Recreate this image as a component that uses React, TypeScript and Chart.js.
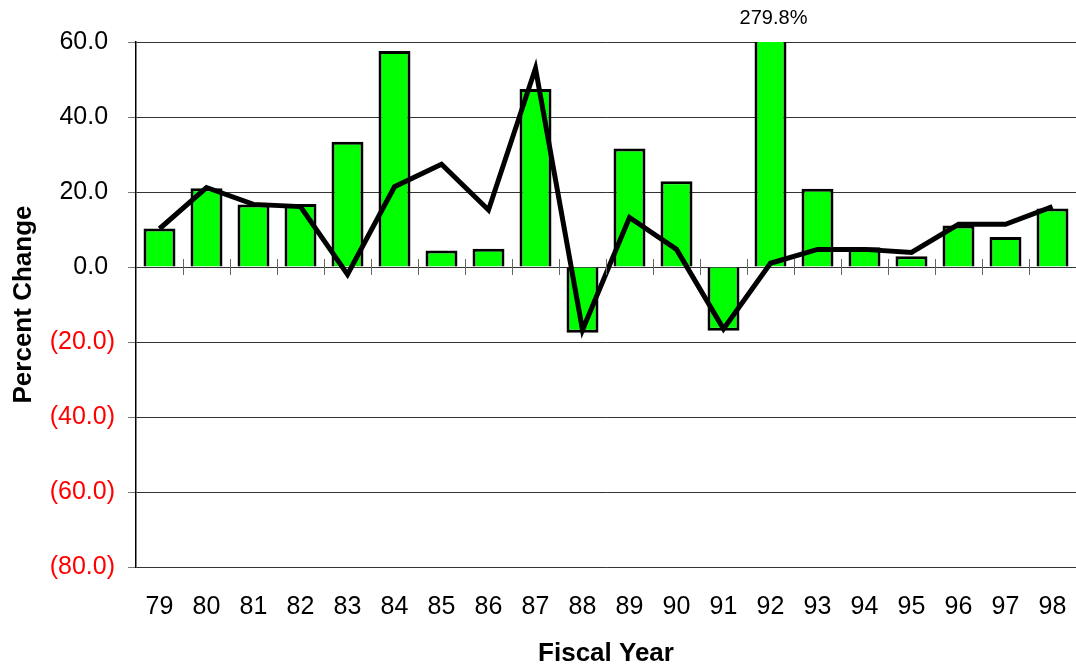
import React, { useEffect, useRef } from "react";
import { Chart, registerables } from "chart.js";

Chart.register(...registerables);

const years = ["79", "80", "81", "82", "83", "84", "85", "86", "87", "88", "89", "90", "91", "92", "93", "94", "95", "96", "97", "98"];
const barValues = [10.3, 21.0, 16.7, 16.8, 33.4, 57.6, 4.4, 4.9, 47.5, -17.5, 31.6, 22.9, -17.0, 279.8, 20.9, 5.3, 2.9, 11.1, 8.0, 15.6];
const lineValues = [10.2, 21.2, 16.7, 16.1, -2.0, 21.4, 27.4, 15.2, 53.0, -16.8, 13.2, 4.7, -16.5, 1.0, 4.7, 4.7, 3.9, 11.4, 11.4, 16.1];
const yMin = -80;
const yMax = 60;
const yStep = 20;
const xTitle = "Fiscal Year";
const yTitle = "Percent Change";

const zeroTicksPlugin = {
  id: "zeroTicks",
  afterDatasetsDraw(chart: any) {
    const { ctx, scales } = chart;
    const x = scales.x;
    const y = scales.y;
    const y0 = y.getPixelForValue(0);
    const n = chart.data.labels.length;
    const w = (x.right - x.left) / n;
    ctx.save();
    ctx.strokeStyle = "#666";
    ctx.lineWidth = 1;
    for (let i = 1; i < n; i++) {
      const px = Math.round(x.left + i * w) + 0.5;
      ctx.beginPath();
      ctx.moveTo(px, y0 - 8);
      ctx.lineTo(px, y0 + 8);
      ctx.stroke();
    }
    ctx.restore();
  },
};

const overflowLabelPlugin = {
  id: "overflowLabel",
  afterDraw(chart: any) {
    const { ctx, chartArea } = chart;
    const meta = chart.getDatasetMeta(0);
    const data = chart.data.datasets[0].data as number[];
    ctx.save();
    ctx.font = "20px 'Liberation Sans', Arial, sans-serif";
    ctx.fillStyle = "#000";
    ctx.textAlign = "center";
    ctx.textBaseline = "middle";
    data.forEach((v, i) => {
      if (v > yMax) {
        const el = meta.data[i];
        ctx.fillText(v.toFixed(1) + "%", el.x + 3, chartArea.top - 24);
      }
    });
    ctx.restore();
  },
};

export default function App() {
  const ref = useRef<HTMLCanvasElement>(null);
  useEffect(() => {
    if (!ref.current) return;
    const chart = new Chart(ref.current, {
      type: "bar",
      data: {
        labels: years,
        datasets: [
          {
            type: "bar",
            data: barValues,
            backgroundColor: "#00ff00",
            borderColor: "#000",
            borderWidth: 3,
            barPercentage: 0.68,
            categoryPercentage: 1,
            order: 1,
          } as any,
          {
            type: "line",
            data: lineValues,
            borderColor: "#000",
            borderWidth: 5,
            pointRadius: 0,
            tension: 0,
            borderJoinStyle: "miter",
            fill: false,
            order: 0,
          } as any,
        ],
      },
      options: {
        animation: false,
        responsive: false,
        layout: { padding: { top: 42, left: 0, right: 0, bottom: 0 } },
        plugins: { legend: { display: false }, tooltip: { enabled: false } },
        scales: {
          x: {
            offset: true,
            grid: { display: true, drawOnChartArea: false, drawTicks: true, tickLength: 22, color: "rgba(0,0,0,0)" },
            border: { display: false },
            ticks: {
              color: "#000",
              padding: 3,
              font: { family: "'Liberation Sans', Arial, sans-serif", size: 25 },
            },
            title: {
              display: true,
              text: xTitle,
              color: "#000",
              padding: { top: 0, bottom: 0 },
              font: { family: "'Liberation Sans', Arial, sans-serif", size: 26, weight: "bold" },
            },
            afterFit(scale: any) {
              scale.height = 102;
              scale.paddingLeft = 0;
              scale.paddingRight = 0;
            },
          },
          y: {
            min: yMin,
            max: yMax,
            grid: { color: "#333", lineWidth: 1, tickLength: 8, tickColor: "#777" },
            border: { display: true, color: "#000", width: 1.5 },
            ticks: {
              stepSize: yStep,
              padding: 13,
              font: { family: "'Liberation Sans', Arial, sans-serif", size: 25 },
              color: (c: any) => (c.tick && c.tick.value < 0 ? "#ff0000" : "#000"),
              callback: (v: any) => {
                const n = Number(v);
                return n < 0 ? `(${Math.abs(n).toFixed(1)})` : `${n.toFixed(1)} `;
              },
            },
            title: {
              display: true,
              text: yTitle,
              color: "#000",
              padding: { top: 8, bottom: 0 },
              font: { family: "'Liberation Sans', Arial, sans-serif", size: 26, weight: "bold" },
            },
            afterFit(scale: any) {
              scale.width = 136;
            },
          },
        },
      },
      plugins: [zeroTicksPlugin, overflowLabelPlugin],
    });
    return () => chart.destroy();
  }, []);
  return (
    <div style={{ position: "absolute", left: 0, top: 0, width: 1076, height: 669, background: "#fff" }}>
      <canvas ref={ref} width={1076} height={669} />
    </div>
  );
}
